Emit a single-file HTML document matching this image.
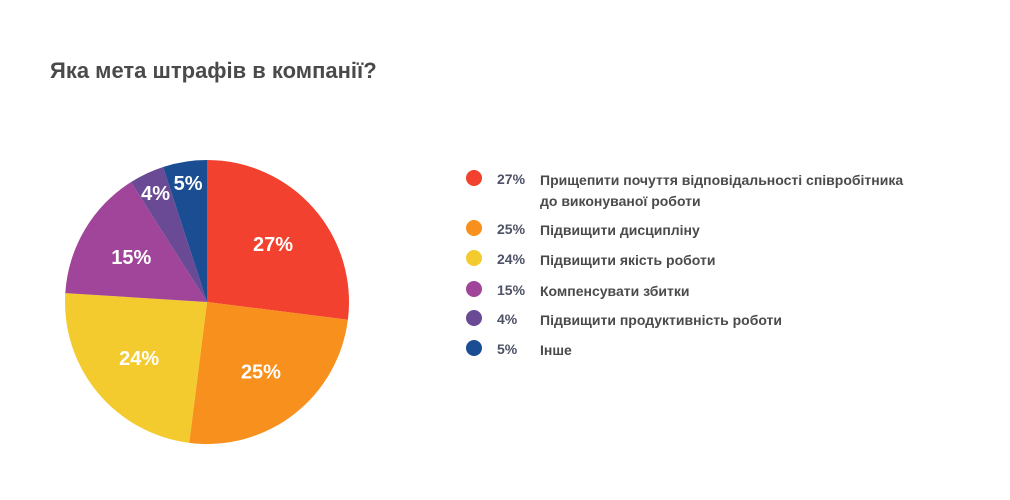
<!DOCTYPE html>
<html><head><meta charset="utf-8"><style>
body{margin:0;width:1010px;height:500px;background:#fff;font-family:"Liberation Sans",sans-serif;overflow:hidden;position:relative}
h1{position:absolute;left:50px;top:58px;margin:0;font-size:22px;font-weight:bold;color:#4a4a4a}
.leg{position:absolute;left:464px;font-size:14px;font-weight:bold;color:#4a4a4a}
.dot{position:absolute;left:2px;top:-1px;width:16px;height:16px;border-radius:50%}
.pct{position:absolute;left:33px;top:0;color:#4d5266;font-size:14px}
.lbl{position:absolute;left:76px;top:-1px;width:440px;line-height:21px}
</style></head><body>
<h1>Яка мета штрафів в компанії?</h1>
<svg id="pie" width="1010" height="500" style="position:absolute;left:0;top:0"></svg>
<div id="legend"></div>
<script>
const categories=["Прищепити почуття відповідальності співробітника до виконуваної роботи","Підвищити дисципліну","Підвищити якість роботи","Компенсувати збитки","Підвищити продуктивність роботи","Інше"];
const values=[27,25,24,15,4,5];
const colors=["#f2412e","#f8901e","#f4cb2f","#a0459a","#6a4a94","#1a4d92"];
const legendTops=[171,221,251,282,311,341];
const cx=207,cy=302,r=142;
const svg=document.getElementById('pie');
const NS="http://www.w3.org/2000/svg";
const total=values.reduce((a,b)=>a+b,0);
function pt(frac,rad){const a=frac*2*Math.PI;return [cx+Math.sin(a)*rad,cy-Math.cos(a)*rad];}
let cum=0;
values.forEach((v,i)=>{
  const s=cum/total,e=(cum+v)/total;cum+=v;
  const p0=pt(s,r),p1=pt(e,r);
  const path=document.createElementNS(NS,'path');
  path.setAttribute('d',`M${cx},${cy}L${p0[0]},${p0[1]}A${r},${r} 0 ${e-s>0.5?1:0} 1 ${p1[0]},${p1[1]}Z`);
  path.setAttribute('fill',colors[i]);
  
  
  svg.appendChild(path);
  const f=(v/total)>=0.1?0.62:0.85;
  const lp=pt((s+e)/2,r*f);
  const t=document.createElementNS(NS,'text');
  t.setAttribute('x',lp[0]);t.setAttribute('y',lp[1]+7);
  t.setAttribute('text-anchor','middle');t.setAttribute('fill','#fff');
  t.setAttribute('font-size','20');t.setAttribute('font-weight','bold');
  t.setAttribute('font-family','Liberation Sans, sans-serif');
  t.textContent=v+'%';
  
  
  svg.appendChild(t);
});
const leg=document.getElementById('legend');
categories.forEach((c,i)=>{
  const d=document.createElement('div');d.className='leg';d.style.top=legendTops[i]+'px';
  
  
  d.innerHTML=`<div class="dot" style="background:${colors[i]}"></div><div class="pct">${values[i]}%</div><div class="lbl">${i===0?'Прищепити почуття відповідальності співробітника<br>до виконуваної роботи':c}</div>`;
  leg.appendChild(d);
});
</script>
</body></html>
